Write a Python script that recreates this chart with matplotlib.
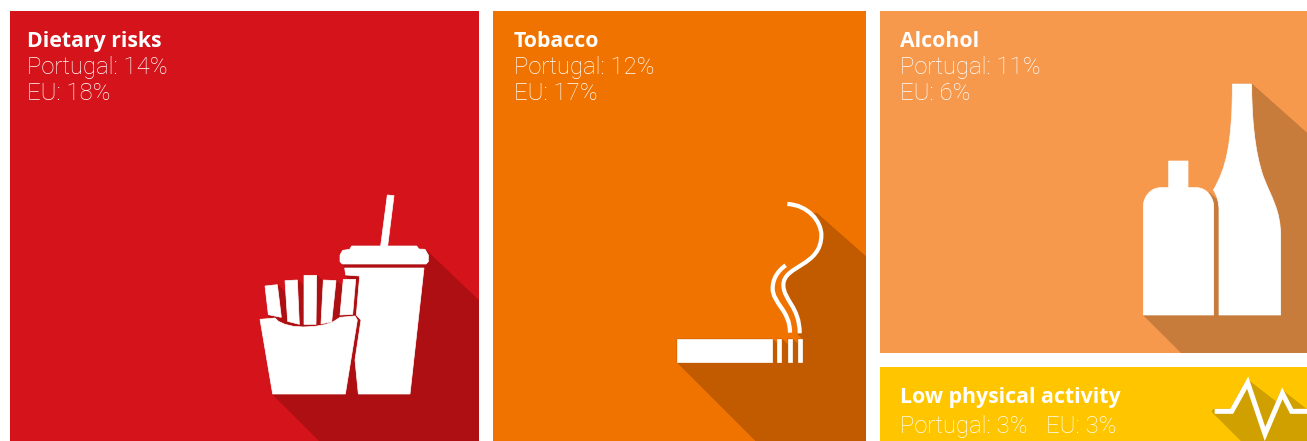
import numpy as np
import matplotlib
matplotlib.use("Agg")
import matplotlib.pyplot as plt
from matplotlib.patches import PathPatch, Polygon, Rectangle
from matplotlib.path import Path

# risk factors and their share of deaths
risk_names = ["Dietary risks", "Tobacco", "Alcohol", "Low physical activity"]
portugal_share = [14, 12, 11, 3]
eu_share = [18, 17, 6, 3]

tile_colors = ["#D5131A", "#F07300", "#F6994D", "#FFC600"]
shadow_colors = ["#AE0F12", "#C25B00", "#C87C3C", "#CFA000"]

# tile edges in pixels: left, right, top, bottom
tile_boxes = [
    (9.5, 478.7, 11, 441),
    (493, 866, 11, 441),
    (880, 1307, 11, 352.5),
    (880, 1307, 366.5, 441),
]

plt.rcParams["font.family"] = ["Open Sans", "DejaVu Sans"]
TITLE_FONT = {"family": ["Open Sans", "DejaVu Sans"], "fontweight": "bold", "fontsize": 15.35}
BODY_FONT = {"family": ["Roboto", "DejaVu Sans"], "fontweight": "light", "fontsize": 17.2}

fig = plt.figure(figsize=(13.07, 4.41), dpi=100, facecolor="white")
ax = fig.add_axes([0, 0, 1, 1])
ax.set_xlim(0, 1307)
ax.set_ylim(441, 0)
ax.axis("off")

MOVE, LINE, CURVE = Path.MOVETO, Path.LINETO, Path.CURVE4


def to_px(points, ox, oy):
    # icon outlines are drawn on a grid three times finer than a pixel
    return np.asarray(points, dtype=float) / 3 + [ox, oy]


def bezier(points, ox, oy):
    # first point starts the path, then each triple is one cubic segment
    pts = to_px(points, ox, oy)
    return Path(pts, [MOVE] + [CURVE] * (len(pts) - 1))


def cast_shadow(outline, clip, color, slope, width=0.0):
    # long shadow: sweep each edge of the outline down and to the right
    for poly in outline.to_polygons(closed_only=False):
        for dy in (1.0, slope):
            step = np.array([700.0, 700.0 * dy])
            for p, q in zip(poly[:-1], poly[1:]):
                quad = Polygon([p, q, q + step, p + step], closed=True,
                               facecolor=color, edgecolor=color,
                               linewidth=max(width, 0.3), joinstyle="round",
                               zorder=2)
                ax.add_patch(quad)
                quad.set_clip_path(clip)


def white_shape(path):
    # thin white edge hides the shadow seams along the outline
    ax.add_patch(PathPatch(path, facecolor="white", edgecolor="white",
                           linewidth=0.5, zorder=3))


def poly_path(points, ox, oy):
    return Path(np.vstack([to_px(points, ox, oy), to_px(points, ox, oy)[:1]]),
                closed=True)


tiles = []
for (x0, x1, y0, y1), col in zip(tile_boxes, tile_colors):
    tile = Rectangle((x0, y0), x1 - x0, y1 - y0, facecolor=col,
                     edgecolor="none", zorder=1)
    ax.add_patch(tile)
    tiles.append(tile)

# fries and drink
fries_ox, fries_oy = 240, 180
box = [(60, 418), (105, 414), (115, 424), (135, 433), (160, 439), (190, 441),
       (225, 439), (255, 434), (280, 425), (300, 412),
       (345, 408), (352, 420), (316, 642), (98, 642)]
fries = [
    [(75, 318), (112, 314), (124, 412), (85, 404)],
    [(135, 302), (172, 300), (178, 433), (143, 424)],
    [(192, 286), (230, 286), (228, 433), (192, 433)],
    [(250, 300), (288, 302), (275, 425), (243, 432)],
    [(310, 298), (347, 298), (338, 403), (300, 405)],
]
cup = [(314, 264), (552, 264), (510, 642), (355, 642), (345, 540), (363, 420),
       (349, 405), (359, 288), (317, 285)]
lid = [(300, 225), (308, 211), (329, 208), (335, 198), (530, 198), (537, 207),
       (555, 208), (565, 225), (565, 245), (558, 252), (307, 252), (300, 245)]
straw = [(442, 45), (462, 47), (443, 198), (422, 198)]

food_parts = [poly_path(p, fries_ox, fries_oy) for p in [box, cup, lid] + fries]
for part in food_parts:
    cast_shadow(part, tiles[0], shadow_colors[0], 0.955)
for part in food_parts:
    white_shape(part)
white_shape(poly_path(straw, fries_ox, fries_oy))

# cigarette and smoke
cig_ox, cig_oy = 660, 190
cig_bars = [[(51, 447), (336, 447), (336, 516), (51, 516)]]
for left in (352, 384, 414):
    cig_bars.append([(left, 447), (left + 12, 447), (left + 12, 516), (left, 516)])
smoke_short = [(377, 226), (350, 245), (338, 270), (338, 295),
               (338, 340), (390, 360), (390, 428)]
smoke_long = [(382, 42), (445, 45), (484, 95), (484, 135),
              (484, 230), (370, 225), (370, 285),
              (370, 330), (419, 350), (419, 430)]
# only the outer side of the long curve throws a shadow
smoke_long_outer = [(468, 75), (478, 92), (484, 112), (484, 135),
                    (484, 230), (370, 225), (370, 285),
                    (370, 330), (419, 350), (419, 430)]
smoke_px = 4.2
smoke_lw = smoke_px * 72 / 100

cig_parts = [poly_path(p, cig_ox, cig_oy) for p in cig_bars]
smoke_parts = [bezier(smoke_short, cig_ox, cig_oy), bezier(smoke_long, cig_ox, cig_oy)]
for part in cig_parts:
    cast_shadow(part, tiles[1], shadow_colors[1], 0.88)
cast_shadow(bezier(smoke_long_outer, cig_ox, cig_oy), tiles[1], shadow_colors[1],
            0.88, width=smoke_lw)
for part in cig_parts:
    white_shape(part)
for part in smoke_parts:
    ax.add_patch(PathPatch(part, facecolor="none", edgecolor="white",
                           linewidth=smoke_lw, capstyle="butt", zorder=3))

# bottles
btl_ox, btl_oy = 1120, 70
short_btl = Path(
    to_px([(146, 273), (204, 273), (204, 353), (230, 353),
           (258, 353), (281, 380), (281, 410), (281, 735), (70, 735),
           (70, 410), (70, 380), (92, 353), (122, 353), (146, 353), (146, 273)],
          btl_ox, btl_oy),
    [MOVE, LINE, LINE, LINE, CURVE, CURVE, CURVE, LINE, LINE, LINE, CURVE, CURVE,
     CURVE, LINE, LINE],
)
# the short bottle only throws a shadow from its base and right side
short_btl_edge = Path(to_px([(268, 368), (281, 410), (281, 735), (70, 735)],
                            btl_ox, btl_oy))
tall_btl = Path(
    to_px([(337, 42), (395, 42), (395, 130), (402, 240), (430, 320),
           (455, 385), (482, 420), (482, 500), (482, 735), (297, 735),
           (297, 420), (297, 395), (290, 375), (280, 360),
           (318, 295), (337, 220), (337, 42)],
          btl_ox, btl_oy),
    [MOVE, LINE, CURVE, CURVE, CURVE, CURVE, CURVE, CURVE, LINE, LINE, LINE,
     CURVE, CURVE, CURVE, CURVE, CURVE, CURVE],
)
for part in (short_btl_edge, tall_btl):
    cast_shadow(part, tiles[2], shadow_colors[2], 0.89)
for part in (short_btl, tall_btl):
    white_shape(part)

# pulse line
pulse_ox, pulse_oy = 880, 350
pulse = [(1004, 184), (1055, 184), (1103, 98), (1155, 252), (1207, 130),
         (1235, 184), (1281, 184)]
pulse_lw = 5.0 * 72 / 100
pulse_path = Path(to_px(pulse, pulse_ox, pulse_oy))
cast_shadow(pulse_path, tiles[3], shadow_colors[3], 0.78, width=pulse_lw)
ax.add_patch(PathPatch(pulse_path, facecolor="none", edgecolor="white",
                       linewidth=pulse_lw, joinstyle="miter", capstyle="butt",
                       zorder=3))

# labels
text_x = [27, 513.5, 900]
for i, x in enumerate(text_x):
    ax.text(x, 47, risk_names[i], color="white", va="baseline", zorder=4, **TITLE_FONT)
    ax.text(x, 74, f"Portugal: {portugal_share[i]}%", color="white", va="baseline",
            zorder=4, **BODY_FONT)
    ax.text(x, 100, f"EU: {eu_share[i]}%", color="white", va="baseline", zorder=4,
            **BODY_FONT)

ax.text(899.5, 403, risk_names[3], color="white", va="baseline", zorder=4, **TITLE_FONT)
ax.text(899.5, 433, f"Portugal: {portugal_share[3]}%", color="white", va="baseline",
        zorder=4, **BODY_FONT)
ax.text(1046, 433, f"EU: {eu_share[3]}%", color="white", va="baseline", zorder=4,
        **BODY_FONT)

fig.savefig("out.png", dpi=100, facecolor="white")
